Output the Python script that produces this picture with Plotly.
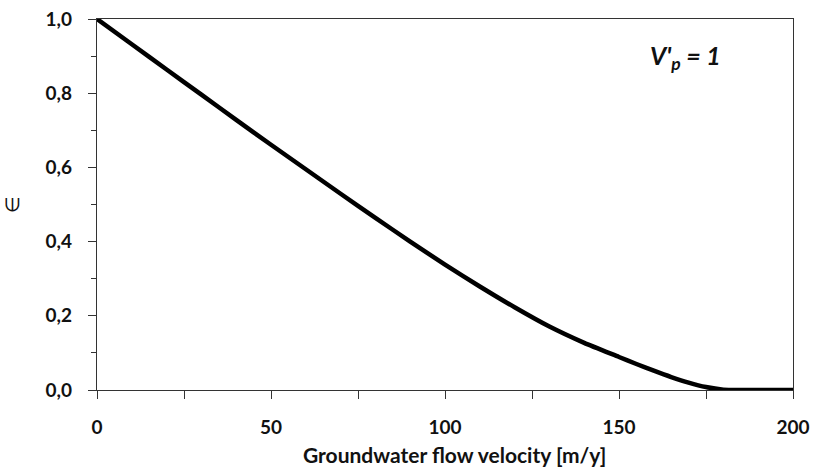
import plotly.graph_objects as go

velocity = [0, 10, 20, 30, 40, 50, 60, 70, 80, 90, 100, 110, 120, 130, 140, 150, 155, 160, 165, 170, 175, 180, 185, 190, 200]
epsilon = [1.0, 0.932, 0.864, 0.796, 0.728, 0.661, 0.595, 0.529, 0.464, 0.400, 0.338, 0.279, 0.223, 0.171, 0.127, 0.089, 0.070, 0.052, 0.035, 0.020, 0.008, 0.001, 0.0, 0.0, 0.0]

x_ticks = [0, 50, 100, 150, 200]
y_ticks = [0.0, 0.2, 0.4, 0.6, 0.8, 1.0]

FONT = "Lato"

fig = go.Figure()
fig.add_trace(go.Scatter(x=velocity, y=epsilon, mode="lines",
                         line=dict(color="black", width=4.5, shape="spline", smoothing=0.6),
                         showlegend=False, cliponaxis=False))

axis_common = dict(showline=True, linecolor="#333", linewidth=1.2, mirror=True,
                   showgrid=False, zeroline=False, ticks="outside", ticklen=8,
                   tickcolor="#333", tickwidth=1.2, automargin=False,
                   tickfont=dict(family=FONT, size=19, color="#111", weight="bold"))

fig.update_xaxes(range=[0, 200], tickvals=x_ticks, ticklabelstandoff=12,
                 minor=dict(dtick=25, ticks="outside", ticklen=8, tickcolor="#333", tickwidth=1.2),
                 **axis_common)
fig.update_yaxes(range=[0, 1], tickvals=y_ticks, tickformat=".1f", ticklabelstandoff=12,
                 minor=dict(dtick=0.1, ticks="outside", ticklen=5, tickcolor="#333", tickwidth=1.2),
                 title=dict(text="∈", standoff=20, font=dict(family=FONT, size=19, color="#111")),
                 **axis_common)

# x-axis title
fig.add_annotation(x=0.514, y=-0.175, xref="paper", yref="paper", yanchor="middle",
                   text="<b>Groundwater flow velocity [m/y]</b>", showarrow=False,
                   font=dict(family=FONT, size=21, color="#111"))

fig.add_annotation(x=0.9, y=0.95, xref="paper", yref="paper",
                   text="<b><i>V'<sub>p</sub> = 1</i></b>", showarrow=False,
                   font=dict(family=FONT, size=25, color="#111"))

fig.update_layout(width=813, height=469, margin=dict(l=97, r=20, t=19, b=79),
                  plot_bgcolor="white", paper_bgcolor="white", separators=", ")

fig.write_html("out.html")
